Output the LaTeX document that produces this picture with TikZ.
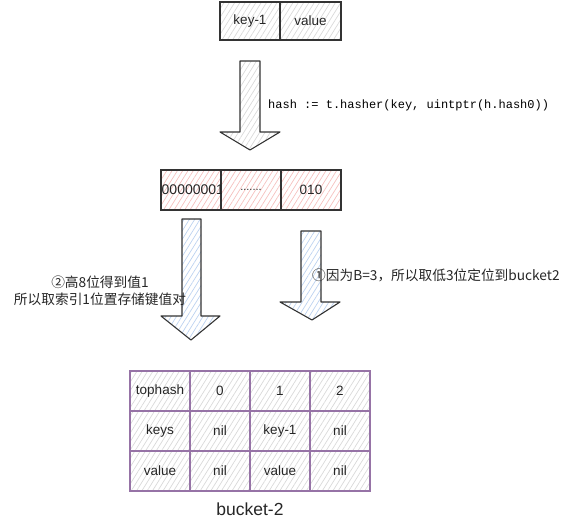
\documentclass[tikz,border=0pt]{standalone}
\usepackage{fontspec}
\setmainfont{Liberation Sans}
\setmonofont{Liberation Mono}
\newfontfamily\cjk{Noto Sans CJK SC}
\usetikzlibrary{patterns.meta}
\definecolor{strokedark}{HTML}{333333}
\definecolor{purplestroke}{HTML}{9673A6}
\definecolor{pinkhatch}{HTML}{F5C0BE}
\definecolor{bluehatch}{HTML}{BCD2F0}
\definecolor{grayhatch}{HTML}{D9D9D9}
\tikzset{
  hatch/.style={pattern={Lines[angle=58,distance=4.5pt,line width=0.7pt]}, pattern color=#1},
  box/.style={draw=strokedark, line width=1.1pt, rectangle, inner sep=0pt, font=\fontsize{13.5}{16}\selectfont, text=black!85},
  graybox/.style={box, hatch=grayhatch},
  pinkbox/.style={box, hatch=pinkhatch},
  cell/.style={draw=purplestroke, line width=1.1pt, rectangle, inner sep=0pt, minimum width=60pt, minimum height=40pt, hatch=grayhatch, font=\fontsize{13.5}{16}\selectfont, text=black!85},
  bigarrow/.style={draw=strokedark, line width=1.1pt, line join=round},
  cjktext/.style={font=\cjk\fontsize{13.7}{17}\selectfont, text=black!85, inner sep=0pt},
}
\begin{document}
\begin{tikzpicture}[x=1pt,y=-1pt]
\useasboundingbox (0,0) rectangle (571,531);

% top box
\node[graybox, minimum width=60pt, minimum height=38pt] (key) at (250,21) {key-1};
\node[graybox, minimum width=61pt, minimum height=38pt] (val) at (310.5,21) {value};

% top arrow
\draw[bigarrow, hatch=grayhatch] (240,61) -- (260,61) -- (260,132) -- (280,132) -- (250,150) -- (220,132) -- (240,132) -- cycle;
\node[font=\ttfamily\fontsize{12}{14}\selectfont, anchor=west, inner sep=0pt] (hashtxt) at (268,105) {hash := t.hasher(key, uintptr(h.hash0))};

% middle box
\node[pinkbox, minimum width=60pt, minimum height=40pt] (hi) at (191,190) {};
\node[pinkbox, minimum width=60pt, minimum height=40pt] (mid) at (251,190) {\fontsize{11}{13}\selectfont .......};
\node[pinkbox, minimum width=60pt, minimum height=40pt] (lo) at (311,190) {010};
\begin{scope}
  \clip (hi.north west) rectangle (hi.south east);
  \node[anchor=west, inner sep=0pt, font=\fontsize{14}{16}\selectfont, text=black!85] (hitxt) at (161.5,190) {00000001};
\end{scope}

% lower left arrow
\draw[bigarrow, hatch=bluehatch] (182,219) -- (201,219) -- (201,316) -- (220,316) -- (191,340) -- (161,316) -- (182,316) -- cycle;
% lower right arrow
\draw[bigarrow, hatch=bluehatch] (301,231) -- (321,231) -- (321,302) -- (340,302) -- (312,320) -- (280,302) -- (301,302) -- cycle;

\node[cjktext, align=center] (lefttxt) at (100,291) {②高8位得到值1\\所以取索引1位置存储键值对};
\node[cjktext, anchor=west] (righttxt) at (312,275) {①因为B=3，所以取低3位定位到bucket2};

% bucket table
\node[cell] (c00) at (160,391) {tophash};
\node[cell] (c01) at (220,391) {0};
\node[cell] (c02) at (280,391) {1};
\node[cell] (c03) at (340,391) {2};
\node[cell] (c10) at (160,431) {keys};
\node[cell] (c11) at (220,431) {nil};
\node[cell] (c12) at (280,431) {key-1};
\node[cell] (c13) at (340,431) {nil};
\node[cell] (c20) at (160,471) {value};
\node[cell] (c21) at (220,471) {nil};
\node[cell] (c22) at (280,471) {value};
\node[cell] (c23) at (340,471) {nil};
\node[font=\fontsize{17.5}{20}\selectfont, text=black!85] (bucket) at (250,509) {bucket-2};
\end{tikzpicture}
\end{document}
